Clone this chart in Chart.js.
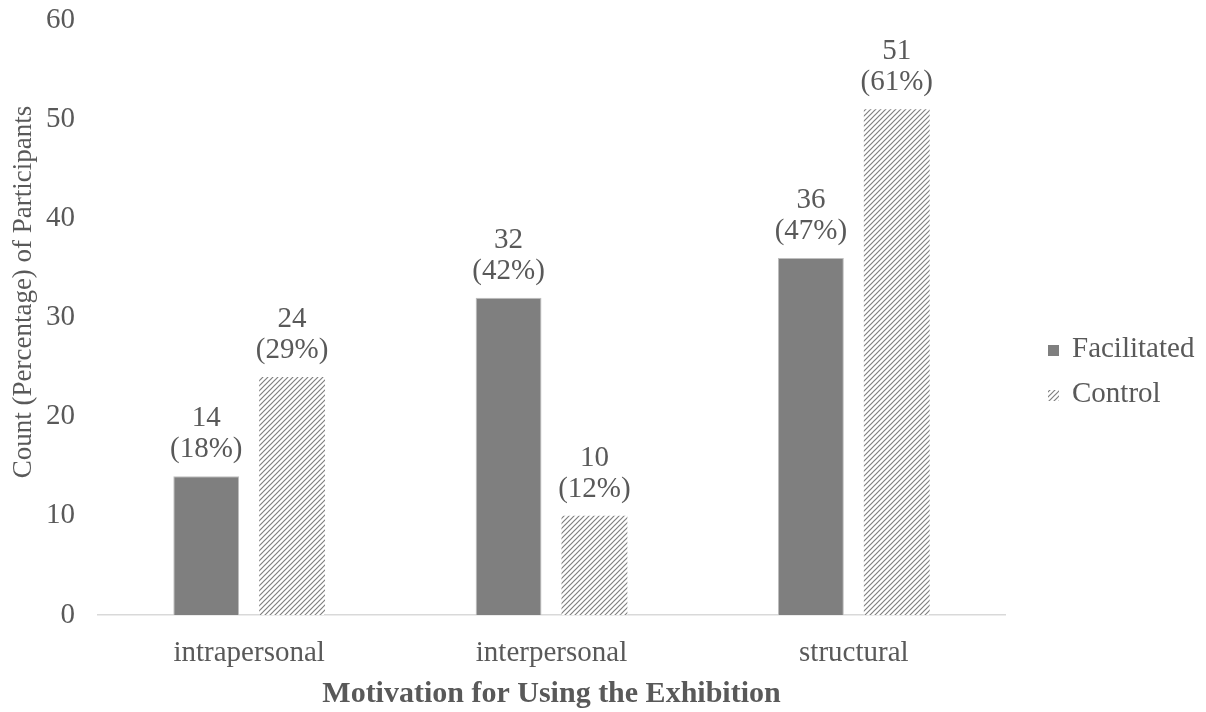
<!DOCTYPE html>
<html>
<head>
<meta charset="utf-8">
<title>Motivation for Using the Exhibition</title>
<script src="https://cdn.jsdelivr.net/npm/chart.js"></script>
<style>
  html, body { margin: 0; padding: 0; background: #fff; }
  #wrap { width: 1206px; height: 712px; }
</style>
</head>
<body>
<div id="wrap"><canvas id="chart"></canvas></div>
<script>
// datos del gráfico
const categories = ['intrapersonal', 'interpersonal', 'structural'];
const facilitated = [14, 32, 36];
const control = [24, 10, 51];
const facilitatedPct = [18, 42, 47];
const controlPct = [29, 12, 61];
const seriesNames = ['Facilitated', 'Control'];
const yTitle = 'Count (Percentage) of Participants';
const yMax = 60;
const yStep = 10;

const FONT = "'Liberation Serif', 'Times New Roman', serif";
const TEXT = '#595959';

// patrón rayado para el grupo control
function makeHatch() {
    const s = 5;
    const c = document.createElement('canvas');
    c.width = s; c.height = s;
    const g = c.getContext('2d');
    g.fillStyle = '#ffffff';
    g.fillRect(0, 0, s, s);
    g.strokeStyle = '#808080';
    g.lineWidth = 1.2;
    g.beginPath();
    g.moveTo(-1, s + 1); g.lineTo(s + 1, -1);
    g.moveTo(-1, 1); g.lineTo(1, -1);
    g.moveTo(s - 1, s + 1); g.lineTo(s + 1, s - 1);
    g.stroke();
    return document.getElementById('chart').getContext('2d').createPattern(c, 'repeat');
}
const hatch = makeHatch();

// etiquetas encima de cada barra: cuenta y porcentaje
const barLabels = {
    id: 'barLabels',
    afterDatasetsDraw(chart) {
        const ctx = chart.ctx;
        const pcts = [facilitatedPct, controlPct];
        ctx.save();
        ctx.font = '29px ' + FONT;
        ctx.fillStyle = TEXT;
        ctx.textAlign = 'center';
        ctx.textBaseline = 'alphabetic';
        chart.data.datasets.forEach(function (ds, i) {
            chart.getDatasetMeta(i).data.forEach(function (bar, j) {
                ctx.fillText(String(ds.data[j]), bar.x, bar.y - 50);
                ctx.fillText('(' + pcts[i][j] + '%)', bar.x, bar.y - 19);
            });
        });
        ctx.restore();
    }
};

// título del eje Y (algo más arriba que el centro, como en el original)
const sideTitle = {
    id: 'sideTitle',
    afterDraw(chart) {
        const ctx = chart.ctx;
        ctx.save();
        ctx.translate(24, chart.chartArea.top + 272);
        ctx.rotate(-Math.PI / 2);
        ctx.font = '27px ' + FONT;
        ctx.fillStyle = TEXT;
        ctx.textAlign = 'center';
        ctx.textBaseline = 'middle';
        ctx.fillText(yTitle, 0, 0);
        ctx.restore();
    }
};

// leyenda a la derecha
const sideLegend = {
    id: 'sideLegend',
    afterDraw(chart) {
        const ctx = chart.ctx;
        const x = chart.chartArea.right + 43;
        ctx.save();
        ctx.font = '29px ' + FONT;
        ctx.textBaseline = 'alphabetic';
        chart.data.datasets.forEach(function (ds, i) {
            const base = 357 + i * 45;
            ctx.fillStyle = ds.backgroundColor;
            ctx.fillRect(x, base - 12, 11, 11);
            ctx.fillStyle = TEXT;
            ctx.fillText(ds.label, x + 24, base);
        });
        ctx.restore();
    }
};

new Chart(document.getElementById('chart'), {
    type: 'bar',
    data: {
        labels: categories,
        datasets: [{
            label: seriesNames[0],
            data: facilitated,
            backgroundColor: '#7f7f7f',
            borderColor: '#bfbfbf',
            borderWidth: 1
        }, {
            label: seriesNames[1],
            data: control,
            backgroundColor: hatch,
            borderColor: 'rgba(0,0,0,0)',
            borderWidth: 0
        }]
    },
    options: {
        responsive: true,
        maintainAspectRatio: false,
        animation: false,
        categoryPercentage: 0.568,
        barPercentage: 0.767,
        layout: { padding: { left: 46, right: 201, top: 20, bottom: 0 } },
        plugins: {
            legend: { display: false },
            tooltip: { enabled: false }
        },
        scales: {
            x: {
                grid: { display: false, drawTicks: false },
                border: { display: true, color: '#d9d9d9', width: 1.5 },
                ticks: { color: TEXT, padding: 21, font: { family: FONT, size: 29 } },
                title: {
                    display: true,
                    text: 'Motivation for Using the Exhibition',
                    color: TEXT,
                    padding: { top: 0, bottom: 0 },
                    font: { family: FONT, size: 30, weight: 'bold' }
                },
                afterFit: function (scale) {
                    scale.paddingLeft = 0;
                    scale.paddingRight = 0;
                    scale.height = 97;
                }
            },
            y: {
                min: 0,
                max: yMax,
                grid: { display: false, drawTicks: false },
                border: { display: false },
                ticks: { stepSize: yStep, color: TEXT, padding: 23, font: { family: FONT, size: 29 } },
                afterFit: function (scale) {
                    scale.paddingTop = 0;
                    scale.paddingBottom = 0;
                    scale.width = 52;
                }
            }
        }
    },
    plugins: [barLabels, sideTitle, sideLegend]
});
</script>
</body>
</html>
